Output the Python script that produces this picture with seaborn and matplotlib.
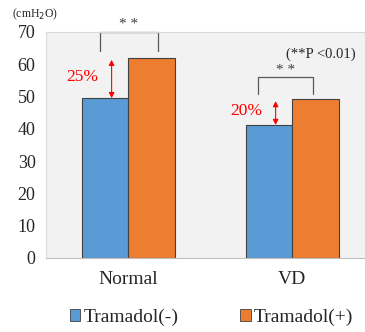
import matplotlib
matplotlib.use("Agg")
import matplotlib.pyplot as plt
import seaborn as sns
import pandas as pd

categories = ["Normal", "VD"]
groups = ["Tramadol(-)", "Tramadol(+)"]
tramadol_minus = [49.5, 41.2]
tramadol_plus = [62.0, 49.2]
percent_labels = ["25%", "20%"]
yticks = [0, 10, 20, 30, 40, 50, 60, 70]

df = pd.DataFrame({
    "cat": categories * 2,
    "group": [groups[0]] * 2 + [groups[1]] * 2,
    "val": tramadol_minus + tramadol_plus,
})

sns.set_style("white")
plt.rcParams["font.family"] = ["Liberation Serif", "DejaVu Serif"]

fig = plt.figure(figsize=(3.65, 3.32), dpi=100)
ax = fig.add_axes([46 / 365, 1 - 258 / 332, (365 - 46) / 365, (258 - 32) / 332])
ax.set_facecolor("#F2F2F2")

sns.barplot(data=df, x="cat", y="val", hue="group", order=categories,
            hue_order=groups, palette=["#5B9BD5", "#ED7D31"], width=0.567,
            saturation=1, edgecolor="#404040", linewidth=0.8, ax=ax, legend=True)

ax.set_xlim(-0.5, 1.445)
ax.set_ylim(0, 70)
ax.set_yticks(yticks)
ax.set_xlabel("")
ax.set_ylabel("")
ax.tick_params(axis="y", length=0, labelsize=13, pad=7.5)
ax.tick_params(axis="x", length=0, labelsize=14, pad=9)
for s in ax.spines.values():
    s.set_color("#D9D9D9")
    s.set_linewidth(0.8)
    s.set_visible(True)
ax.spines["bottom"].set_color("#BFBFBF")

# brackets
brackets = [(-0.17, 0.18, 70, 64.2), (-0.21, 0.13, 56.0, 50.8)]
for i, (x0, x1, top, bot) in enumerate(brackets):
    ax.plot([i + x0, i + x0, i + x1, i + x1], [bot, top, top, bot],
            color="#595959", lw=0.9, clip_on=False)
    ax.text(i + (x0 + x1) / 2, top + 0.2, "* *", ha="center", va="bottom",
            fontsize=11, color="#404040")

# arrows
for i, (lo, hi) in enumerate(zip(tramadol_minus, tramadol_plus)):
    ax.annotate("", xy=(i - 0.1, hi - 0.6), xytext=(i - 0.1, lo),
                arrowprops=dict(arrowstyle="<|-|>", color="#FF0000", lw=0.8,
                                mutation_scale=8, shrinkA=0, shrinkB=0))
    ax.text(i - 0.18, (lo + hi) / 2 + 0.3, percent_labels[i], ha="right",
            va="center", fontsize=12.5, color="#FF0000")

ax.text(1.385, 63.0, "(**P <0.01)", ha="right", va="center", fontsize=10.5,
        color="#262626")
fig.text(12 / 365, 1 - 14 / 332, "(cmH$_2$O)", ha="left", va="center",
         fontsize=8.5, color="#262626")

leg = ax.legend(loc="center", bbox_to_anchor=(0.519, (258 - 317) / 226),
                ncol=2, frameon=False, fontsize=14, handlelength=0.55,
                handleheight=0.55, handletextpad=0.15, columnspacing=3.2,
                borderaxespad=0)
for h in leg.legend_handles:
    h.set_edgecolor("#404040")
    h.set_linewidth(0.6)

fig.savefig("out.png", dpi=100)
